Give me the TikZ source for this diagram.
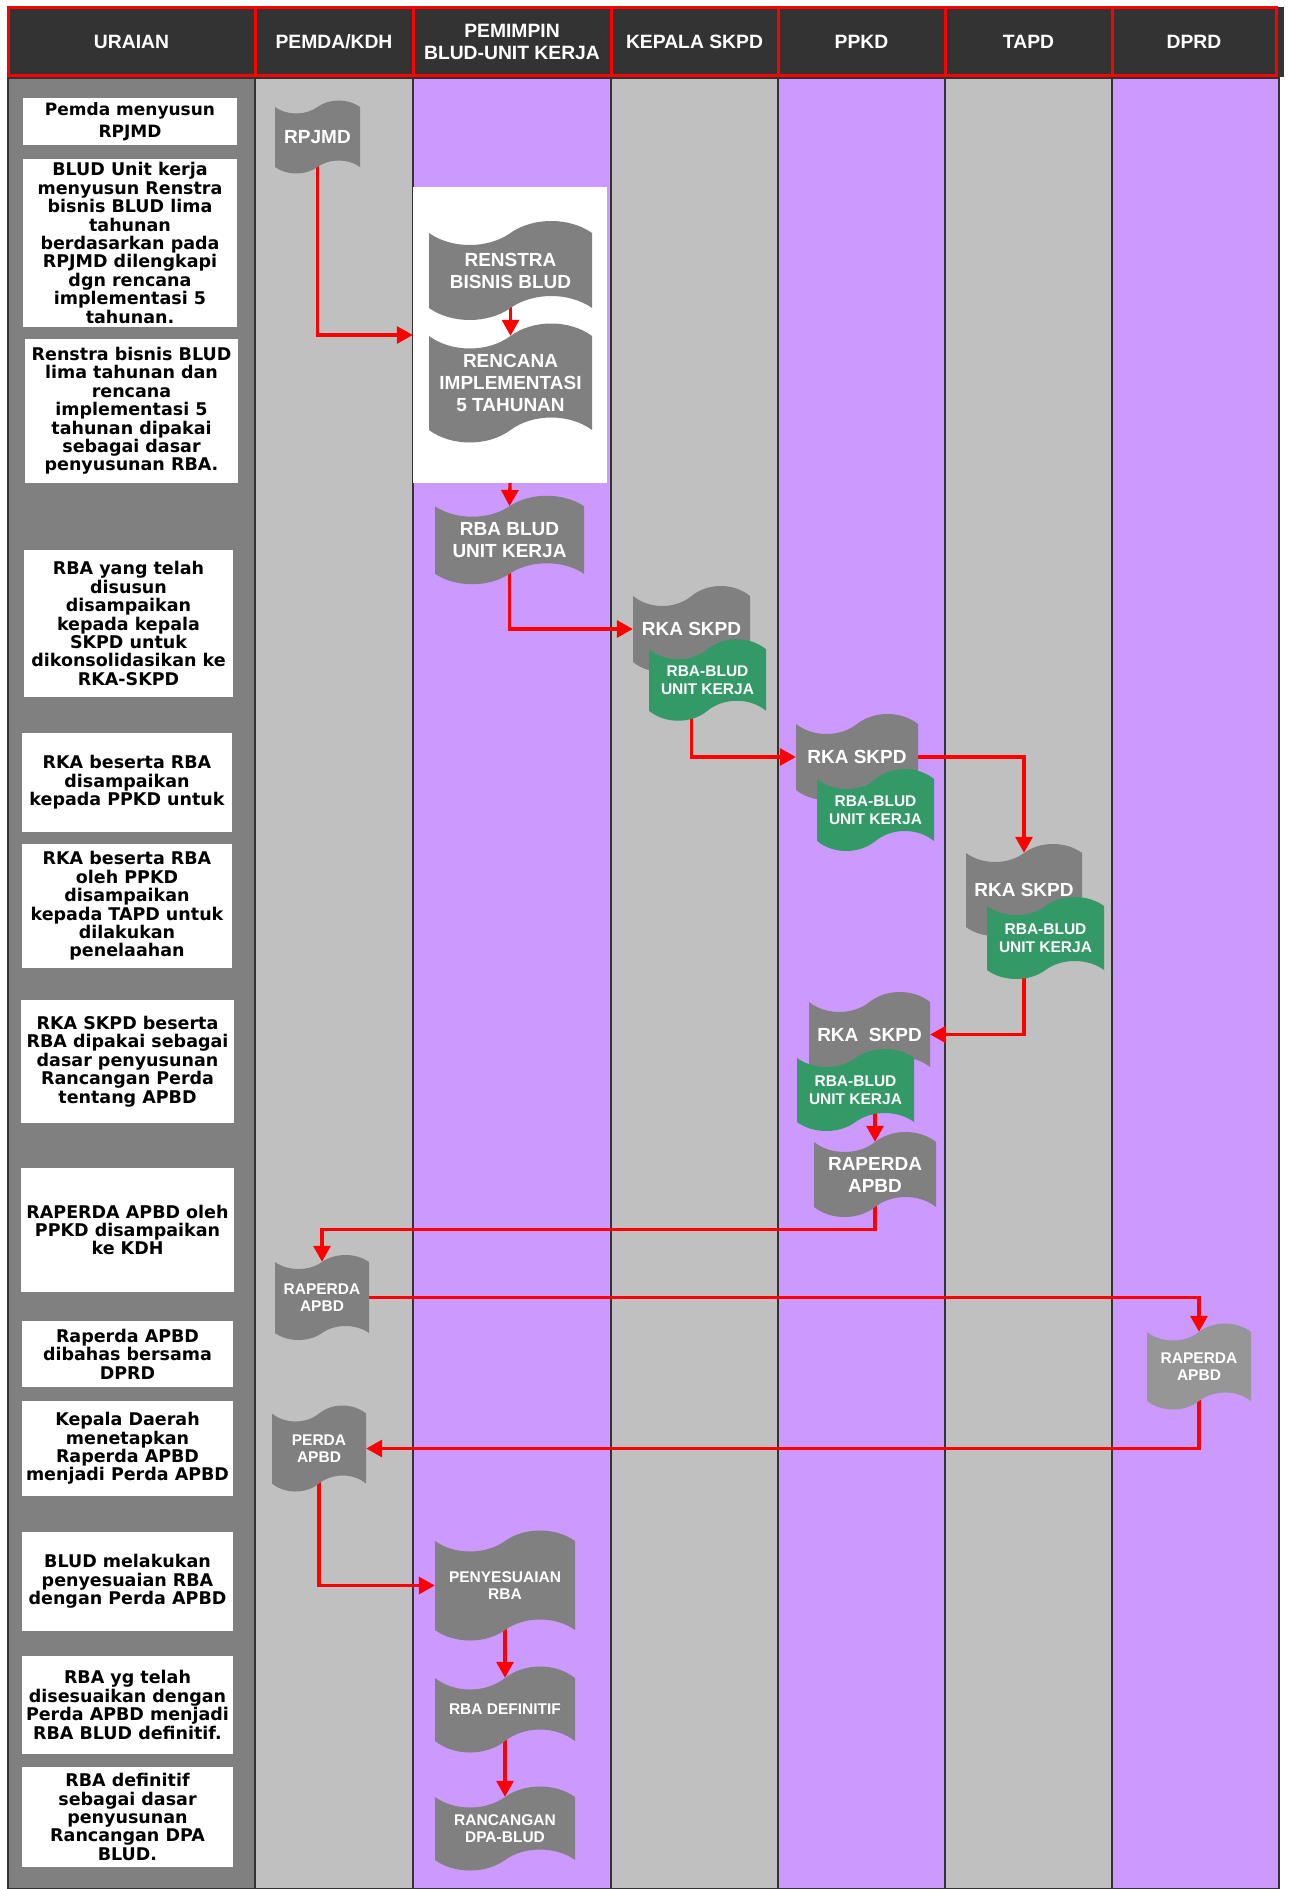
\documentclass[tikz,border=0pt]{standalone}
\usepackage{fontspec}
\setmainfont{Liberation Sans}
\newfontfamily\descfont{DejaVu Sans}
\usetikzlibrary{shapes.symbols,arrows.meta}

\definecolor{hdrgray}{HTML}{333333}
\definecolor{lanedark}{HTML}{808080}
\definecolor{lanegray}{HTML}{C0C0C0}
\definecolor{lanepurple}{HTML}{CC99FF}
\definecolor{docgray}{HTML}{808080}
\definecolor{doclight}{HTML}{969696}
\definecolor{docgreen}{HTML}{339966}
\definecolor{linkred}{HTML}{FF0000}

\pgfdeclarelayer{lanes}
\pgfdeclarelayer{links}
\pgfsetlayers{lanes,links,main}

\begin{document}
\begin{tikzpicture}[x=1pt, y=-1pt,
  every node/.style = {align=center, inner sep=0pt}]
  \tikzstyle{lane}=[draw=hdrgray, line width=1.5pt]
  \tikzstyle{hdr}=[rectangle, fill=hdrgray, draw=linkred, line width=3pt,
    minimum height=68pt, text=white, font=\fontsize{19.3}{22}\selectfont\bfseries]
  \tikzstyle{desc}=[rectangle, fill=white,
    font=\descfont\fontsize{17.5}{18.4}\selectfont\bfseries]
  \tikzstyle{doc}=[tape, fill=docgray, text=white,
    font=\fontsize{19}{22}\selectfont\bfseries]
  \tikzstyle{docsmall}=[doc, font=\fontsize{15.5}{17.5}\selectfont\bfseries]
  \tikzstyle{rba}=[docsmall, fill=docgreen, tape bend height=20pt,
    minimum width=117pt]
  \tikzstyle{link}=[draw=linkred, line width=3.3pt,
    -{Triangle[length=16pt, width=17pt]}]

  \useasboundingbox (0,0) rectangle (1292,1889);

  % swimlanes
  \begin{pgfonlayer}{lanes}
    \foreach \xa/\xb/\col in {8/255/lanedark, 255/413/lanegray,
        413/611/lanepurple, 611/778/lanegray, 778/945/lanepurple,
        945/1112/lanegray, 1112/1279/lanepurple}
      \draw[lane, fill=\col] (\xa,78) rectangle (\xb,1889);
    \node[fill=white, minimum width=194pt, minimum height=296pt]
      (renstraBox) at (510,335) {};
  \end{pgfonlayer}

  % header
  \fill[hdrgray] (8,7) rectangle (1284,77);
  \node[hdr, minimum width=247pt] (hUraian) at (131.5,41.5) {URAIAN};
  \node[hdr, minimum width=158pt] (hPemda) at (334,41.5) {PEMDA/KDH};
  \node[hdr, minimum width=198pt] (hPemimpin) at (512,41.5) {PEMIMPIN\\BLUD-UNIT KERJA};
  \node[hdr, minimum width=167pt] (hKepala) at (694.5,41.5) {KEPALA SKPD};
  \node[hdr, minimum width=167pt] (hPpkd) at (861.5,41.5) {PPKD};
  \node[hdr, minimum width=167pt] (hTapd) at (1028.5,41.5) {TAPD};
  \node[hdr, minimum width=164pt] (hDprd) at (1194,41.5) {DPRD};

  % uraian
  \node[desc, minimum width=214pt, minimum height=47pt,
    font=\descfont\fontsize{17}{21.7}\selectfont\bfseries] (d1) at (130,121.5)
    {Pemda menyusun\\RPJMD};
  \node[desc, minimum width=214pt, minimum height=168pt] (d2) at (130,243)
    {BLUD Unit kerja\\menyusun Renstra\\bisnis BLUD lima\\tahunan\\berdasarkan pada\\RPJMD dilengkapi\\dgn rencana\\implementasi 5\\tahunan.};
  \node[desc, minimum width=213pt, minimum height=144pt] (d3) at (131.5,411)
    {Renstra bisnis BLUD\\lima tahunan dan\\rencana\\implementasi 5\\tahunan dipakai\\sebagai dasar\\penyusunan RBA.};
  \node[desc, minimum width=209pt, minimum height=147pt] (d4) at (128.5,623.5)
    {RBA yang telah\\disusun\\disampaikan\\kepada kepala\\SKPD untuk\\dikonsolidasikan ke\\RKA-SKPD};
  \node[desc, minimum width=210pt, minimum height=99pt] (d5) at (127,782.5)
    {RKA beserta RBA\\disampaikan\\kepada PPKD untuk};
  \node[desc, minimum width=210pt, minimum height=124pt] (d6) at (127,906)
    {RKA beserta RBA\\oleh PPKD\\disampaikan\\kepada TAPD untuk\\dilakukan\\penelaahan};
  \node[desc, minimum width=213pt, minimum height=123pt] (d7) at (127.5,1061.5)
    {RKA SKPD beserta\\RBA dipakai sebagai\\dasar penyusunan\\Rancangan Perda\\tentang APBD};
  \node[desc, minimum width=213pt, minimum height=124pt] (d8) at (127.5,1230)
    {RAPERDA APBD oleh\\PPKD disampaikan\\ke KDH};
  \node[desc, minimum width=211pt, minimum height=66pt] (d9) at (127.5,1354)
    {Raperda APBD\\dibahas bersama\\DPRD};
  \node[desc, minimum width=211pt, minimum height=95pt] (d10) at (127.5,1448.5)
    {Kepala Daerah\\menetapkan\\Raperda APBD\\menjadi Perda APBD};
  \node[desc, minimum width=211pt, minimum height=99pt] (d11) at (127.5,1581.5)
    {BLUD melakukan\\penyesuaian RBA\\dengan Perda APBD};
  \node[desc, minimum width=211pt, minimum height=98pt] (d12) at (127.5,1705)
    {RBA yg telah\\disesuaikan dengan\\Perda APBD menjadi\\RBA BLUD definitif.};
  \node[desc, minimum width=211pt, minimum height=100pt] (d13) at (127.5,1817)
    {RBA definitif\\sebagai dasar\\penyusunan\\Rancangan DPA\\BLUD.};

  % documents
  \node[doc, minimum width=85pt, minimum height=73pt, tape bend height=13pt]
    (rpjmd) at (317.5,137) {RPJMD};
  \node[doc, minimum width=163pt, minimum height=99pt, tape bend height=24pt]
    (renstra) at (510.5,270.5) {RENSTRA\\BISNIS BLUD};
  \node[doc, minimum width=163pt, minimum height=119pt, tape bend height=25pt]
    (rencana) at (510.5,383) {RENCANA\\IMPLEMENTASI\\5 TAHUNAN};
  \node[doc, minimum width=149pt, minimum height=88.5pt, tape bend height=21pt]
    (rbaBlud) at (509.5,540) {RBA BLUD\\UNIT KERJA};
  \node[doc, minimum width=117pt, minimum height=86pt, tape bend height=20pt]
    (rkaKepala) at (691.5,629) {RKA SKPD};
  \node[rba, minimum height=81.5pt] (rbaKepala) at (707.5,680) {RBA-BLUD\\UNIT KERJA};
  \node[doc, minimum width=122pt, minimum height=86pt, tape bend height=20pt]
    (rkaPpkd) at (857,757) {RKA SKPD};
  \node[rba, minimum height=82pt] (rbaPpkd) at (875.5,810) {RBA-BLUD\\UNIT KERJA};
  \node[doc, minimum width=116pt, minimum height=92pt, tape bend height=18pt]
    (rkaTapd) at (1024,890) {RKA SKPD};
  \node[rba, minimum height=82pt, tape bend height=18pt]
    (rbaTapd) at (1045.5,938) {RBA-BLUD\\UNIT KERJA};
  \node[doc, minimum width=121pt, minimum height=85pt, tape bend height=20pt]
    (rkaApbd) at (869.5,1034.5) {RKA\ \ SKPD};
  \node[rba, minimum height=82pt, tape bend height=18pt]
    (rbaApbd) at (855.5,1090) {RBA-BLUD\\UNIT KERJA};
  \node[doc, minimum width=122pt, minimum height=85pt, tape bend height=20pt]
    (raperdaPpkd) at (875,1174.5) {RAPERDA\\APBD};
  \node[docsmall, minimum width=94pt, minimum height=85pt, tape bend height=14pt]
    (raperdaKdh) at (322,1297.5) {RAPERDA\\APBD};
  \node[docsmall, fill=doclight, minimum width=104pt, minimum height=86pt,
    tape bend height=17pt] (raperdaDprd) at (1199,1366.5) {RAPERDA\\APBD};
  \node[docsmall, minimum width=94pt, minimum height=86pt, tape bend height=16pt]
    (perda) at (319,1448.5) {PERDA\\APBD};
  \node[docsmall, minimum width=140pt, minimum height=110pt, tape bend height=21pt]
    (penyesuaian) at (505,1585.5) {PENYESUAIAN\\RBA};
  \node[docsmall, minimum width=140pt, minimum height=86pt, tape bend height=23pt]
    (rbaDef) at (505,1709.5) {RBA DEFINITIF};
  \node[docsmall, minimum width=140pt, minimum height=84pt, tape bend height=21pt]
    (rancangan) at (505,1828.5) {RANCANGAN\\DPA-BLUD};

  % flow
  \begin{pgfonlayer}{links}
    \draw[link] (rpjmd.center) |- (renstraBox.west);
    \draw[link] (renstra.center) -- (rencana.north);
    \draw[link] (renstraBox.south) -- (rbaBlud.north);
    \draw[link] (rbaBlud.center) |- (rkaKepala.west);
    \draw[link] (rkaKepala.center |- rbaKepala.center) |- (rkaPpkd.west);
    \draw[link] (rkaPpkd.center) -| (rkaTapd.north);
    \draw[link] (rkaTapd.center |- rbaTapd.center) |- (rkaApbd.east);
    \draw[link] (raperdaPpkd.center |- rbaApbd.center) -- (raperdaPpkd.north);
    \draw[link] (raperdaPpkd.center) -- ++(0,55) -| (raperdaKdh.north);
    \draw[link] (raperdaKdh.center) -| (raperdaDprd.north);
    \draw[link] (raperdaDprd.center) |- (perda.east);
    \draw[link] (perda.center) |- (penyesuaian.west);
    \draw[link] (penyesuaian.center) -- (rbaDef.north);
    \draw[link] (rbaDef.center) -- (rancangan.north);
  \end{pgfonlayer}
\end{tikzpicture}
\end{document}
